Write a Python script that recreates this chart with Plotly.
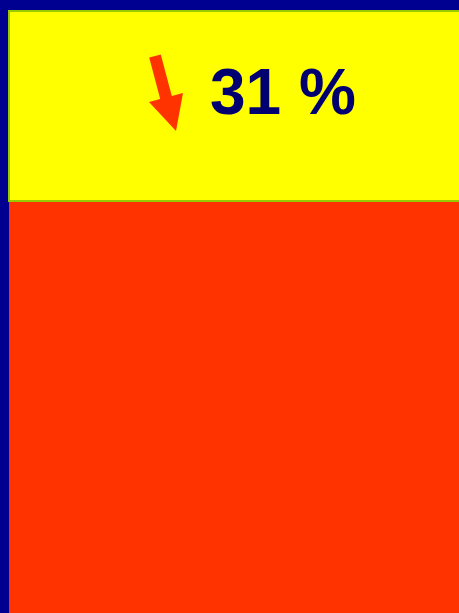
import plotly.graph_objects as go

categories = ["Total"]
red_values = [69]
yellow_values = [31]
label_text = "31 %"

W, H = 459, 613
ML, MT = 8, 10
PW, PH = W - ML, H - MT

def px(x, y):
    return (x - ML) / PW, 1 - (y - MT) / PH

fig = go.Figure()
fig.add_trace(go.Bar(x=categories, y=red_values, marker=dict(color="#FF3300", line=dict(width=0)),
                     width=1, hoverinfo="skip"))
fig.add_trace(go.Bar(x=categories, y=yellow_values, marker=dict(color="#FFFF00", line=dict(color="#99CC00", width=2)),
                     width=1, hoverinfo="skip"))

arrow_pts = [(149.2, 57.6), (160.8, 54.4), (171.8, 95.9), (183, 93), (176, 131), (149, 102), (160.2, 99.1)]
path = "M " + " L ".join(f"{px(a,b)[0]:.5f},{px(a,b)[1]:.5f}" for a, b in arrow_pts) + " Z"
fig.add_shape(type="path", path=path, xref="paper", yref="paper",
              fillcolor="#FF3300", line=dict(width=0))

tx, ty = px(283, 91.5)
fig.add_annotation(x=tx, y=ty, xref="paper", yref="paper", text=f"<b>{label_text}</b>",
                   showarrow=False, font=dict(family="Liberation Sans, Arial", size=64, color="#000070"),
                   xanchor="center", yanchor="middle")

fig.update_layout(
    width=W, height=H, barmode="stack", showlegend=False,
    margin=dict(l=ML, r=0, t=MT, b=0),
    paper_bgcolor="#000090", plot_bgcolor="#000090",
    xaxis=dict(range=[-0.502, 0.3], visible=False, fixedrange=True),
    yaxis=dict(range=[1.6, 100.2], visible=False, fixedrange=True),
)
fig.write_html("out.html", config={"displayModeBar": False},
               post_script="document.body.style.margin='0';document.body.style.overflow='hidden';document.body.style.background='#000090';")
